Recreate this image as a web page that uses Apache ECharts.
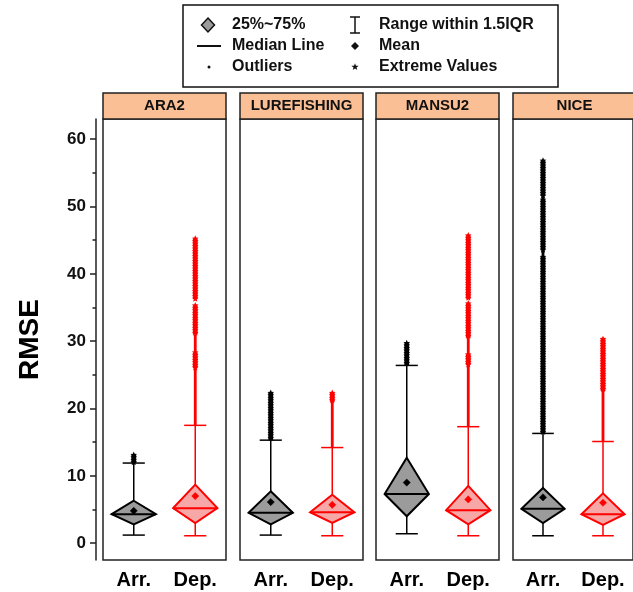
<!DOCTYPE html>
<html>
<head>
<meta charset="utf-8">
<script src="https://cdn.jsdelivr.net/npm/echarts@6/dist/echarts.min.js"></script>
<style>html,body{margin:0;padding:0;background:#fff;}#c{width:633px;height:592px;}</style>
</head>
<body>
<div id="c"></div>
<script>
// ---------- data ----------
const panels = ['ARA2', 'LUREFISHING', 'MANSU2', 'NICE'];
const groups = ['Arr.', 'Dep.'];
const tickValues = [0, 10, 20, 30, 40, 50, 60];
const minorTickValues = [5, 15, 25, 35, 45, 55];

const arrLow    = [1.2, 1.2, 1.4, 1.1];
const arrQ1     = [2.8, 2.8, 4.0, 3.0];
const arrMedian = [4.3, 4.5, 7.3, 5.1];
const arrQ3     = [6.3, 7.7, 12.7, 8.2];
const arrHigh   = [11.9, 15.3, 26.4, 16.3];
const arrMean   = [4.8, 6.1, 9.0, 6.8];

const depLow    = [1.1, 1.1, 1.1, 1.1];
const depQ1     = [3.0, 3.0, 2.8, 2.7];
const depMedian = [5.2, 4.6, 4.9, 4.3];
const depQ3     = [8.7, 7.2, 8.5, 7.4];
const depHigh   = [17.5, 14.2, 17.3, 15.1];
const depMean   = [7.0, 5.7, 6.5, 6.0];

// outlier value ranges (sparse = outliers, dense = extreme values)
const arrOutlierBands = [[], [], [], [[42.5, 43.5], [51.0, 51.6]]];
const arrExtremeBands = [[[11.9, 13.1]], [[15.3, 22.3]], [[26.4, 29.7]], [[16.3, 42.5], [43.5, 51.0], [51.6, 56.8]]];
const depOutlierBands = [[[17.5, 26.0], [28.3, 31.0]], [[14.2, 21.0]], [[17.3, 26.5], [28.0, 30.5]], [[15.1, 22.6]]];
const depExtremeBands = [[[26.0, 28.3], [31.0, 35.3], [36.3, 45.2]], [[21.0, 22.3]], [[26.5, 28.0], [30.5, 35.6], [36.3, 45.7]], [[22.6, 30.3]]];

// ---------- styling ----------
const FONT = 'Liberation Sans, Arial, sans-serif';
const strokeColors = ['#000000', '#ff0000'];
const fillColors = ['#9b9b9b', '#f8a7a7'];
const headerFill = '#fbbf95';
const yMin = -2.5, yMax = 63;
const gridTop = 119, gridHeight = 441, gridWidth = 123;
const gridLefts = [103, 240, 376, 513];

function starPoints(cx, cy, ro, ri) {
  const pts = [];
  for (let k = 0; k < 10; k++) {
    const r = k % 2 === 0 ? ro : ri;
    const a = -Math.PI / 2 + k * Math.PI / 5;
    pts.push([cx + r * Math.cos(a), cy + r * Math.sin(a)]);
  }
  return pts;
}

function renderBox(params, api) {
  const g = api.value(0);
  const color = strokeColors[g], fill = fillColors[g];
  const cy = v => api.coord([g, v])[1];
  const x = api.coord([g, 0])[0];
  const half = api.size([1, 0])[0] * 0.36;
  const capHalf = half * 0.5;
  const yLow = cy(api.value(1)), yQ1 = cy(api.value(2)), yMed = cy(api.value(3)),
        yQ3 = cy(api.value(4)), yHigh = cy(api.value(5)), yMean = cy(api.value(6));
  const ls = { stroke: color, lineWidth: 1.5 };
  const m = 3.6;
  return {
    type: 'group',
    children: [
      { type: 'line', shape: { x1: x, y1: yQ3, x2: x, y2: yHigh }, style: ls },
      { type: 'line', shape: { x1: x, y1: yQ1, x2: x, y2: yLow }, style: ls },
      { type: 'line', shape: { x1: x - capHalf, y1: yHigh, x2: x + capHalf, y2: yHigh }, style: ls },
      { type: 'line', shape: { x1: x - capHalf, y1: yLow, x2: x + capHalf, y2: yLow }, style: ls },
      { type: 'polygon', shape: { points: [[x, yQ3], [x + half, yMed], [x, yQ1], [x - half, yMed]] },
        style: { fill: fill, stroke: color, lineWidth: 2 } },
      { type: 'line', shape: { x1: x - half, y1: yMed, x2: x + half, y2: yMed }, style: { stroke: color, lineWidth: 2 } },
      { type: 'polygon', shape: { points: [[x, yMean - m], [x + m, yMean], [x, yMean + m], [x - m, yMean]] },
        style: { fill: color, stroke: color, lineWidth: 0.5 } }
    ]
  };
}

function renderBand(params, api) {
  const g = api.value(0);
  const color = strokeColors[g];
  const x = api.coord([g, 0])[0];
  const yHi = api.coord([g, api.value(2)])[1];
  const yLo = api.coord([g, api.value(1)])[1];
  const kind = api.value(3);
  if (kind === 0) {
    return { type: 'rect', shape: { x: x - 1.4, y: yHi, width: 2.8, height: yLo - yHi }, style: { fill: color } };
  }
  const children = [{ type: 'rect', shape: { x: x - 2.4, y: yHi, width: 4.8, height: yLo - yHi }, style: { fill: color } }];
  for (let y = yHi; y <= yLo + 0.1; y += 2.5) {
    children.push({ type: 'polygon', shape: { points: starPoints(x, y, 3.5, 1.6) }, style: { fill: color } });
  }
  return { type: 'group', children };
}

// ---------- build option ----------
const grids = [], xAxes = [], yAxes = [], series = [], graphics = [];
panels.forEach((name, i) => {
  grids.push({ left: gridLefts[i], top: gridTop, width: gridWidth, height: gridHeight,
    show: true, borderColor: '#222', borderWidth: 1.5, backgroundColor: '#fff' });
  xAxes.push({ gridIndex: i, type: 'category', data: groups,
    axisLine: { show: false }, axisTick: { show: false }, splitLine: { show: false },
    axisLabel: { fontSize: 20, fontWeight: 'bold', color: '#000', margin: 10, fontFamily: FONT } });
  if (i === 0) {
    yAxes.push({ gridIndex: 0, type: 'value', position: 'left', min: yMin, max: yMax, offset: 7,
      name: 'RMSE', nameLocation: 'middle', nameGap: 52, nameRotate: 90,
      nameTextStyle: { fontSize: 28, fontWeight: 'bold', color: '#000', fontFamily: FONT },
      axisLine: { show: true, lineStyle: { color: '#222', width: 1.5 } },
      axisTick: { show: true, customValues: tickValues, length: 6, lineStyle: { color: '#222', width: 1.5 } },
      axisLabel: { show: true, customValues: tickValues, fontSize: 17, fontWeight: 'bold', color: '#111', margin: 10, fontFamily: FONT },
      splitLine: { show: false } });
  } else {
    yAxes.push({ gridIndex: i, type: 'value', min: yMin, max: yMax, show: false, splitLine: { show: false } });
  }
  // outlier bands
  const bandData = [];
  arrOutlierBands[i].forEach(b => bandData.push([0, b[0], b[1], 0]));
  arrExtremeBands[i].forEach(b => bandData.push([0, b[0], b[1], 1]));
  depOutlierBands[i].forEach(b => bandData.push([1, b[0], b[1], 0]));
  depExtremeBands[i].forEach(b => bandData.push([1, b[0], b[1], 1]));
  series.push({ type: 'custom', name: 'Outliers', xAxisIndex: i, yAxisIndex: i, renderItem: renderBand,
    data: bandData, silent: true, clip: true });
  series.push({ type: 'custom', name: 'Boxes', xAxisIndex: i, yAxisIndex: i, renderItem: renderBox, silent: true,
    data: [
      [0, arrLow[i], arrQ1[i], arrMedian[i], arrQ3[i], arrHigh[i], arrMean[i]],
      [1, depLow[i], depQ1[i], depMedian[i], depQ3[i], depHigh[i], depMean[i]]
    ] });
  // panel header
  graphics.push({ type: 'rect', shape: { x: gridLefts[i], y: 93, width: gridWidth, height: 26 },
    style: { fill: headerFill, stroke: '#222', lineWidth: 1.5 } });
  graphics.push({ type: 'text', x: gridLefts[i] + gridWidth / 2, y: 106,
    style: { text: name, font: 'bold 15px ' + FONT, fill: '#111', textAlign: 'center', textVerticalAlign: 'middle', verticalAlign: 'middle' } });
});
// minor ticks axis
yAxes.push({ gridIndex: 0, type: 'value', position: 'left', min: yMin, max: yMax, offset: 7,
  axisLine: { show: false }, axisLabel: { show: false }, splitLine: { show: false },
  axisTick: { show: true, customValues: minorTickValues, length: 3.5, lineStyle: { color: '#222', width: 1.5 } } });

// legend
const lt = (t, x, y) => ({ type: 'text', x: x, y: y,
  style: { text: t, font: 'bold 16px ' + FONT, fill: '#111', textAlign: 'left', textVerticalAlign: 'middle', verticalAlign: 'middle' } });
graphics.push({ type: 'rect', shape: { x: 183, y: 5, width: 375, height: 82 }, style: { fill: '#fff', stroke: '#111', lineWidth: 1.5 } });
graphics.push({ type: 'polygon', shape: { points: [[208, 18], [214.5, 25], [208, 32], [201.5, 25]] }, style: { fill: '#9b9b9b', stroke: '#111', lineWidth: 1.5 } });
graphics.push(lt('25%~75%', 232, 25));
graphics.push({ type: 'line', shape: { x1: 355, y1: 17, x2: 355, y2: 33 }, style: { stroke: '#111', lineWidth: 1.5 } });
graphics.push({ type: 'line', shape: { x1: 350, y1: 17, x2: 360, y2: 17 }, style: { stroke: '#111', lineWidth: 1.5 } });
graphics.push({ type: 'line', shape: { x1: 350, y1: 33, x2: 360, y2: 33 }, style: { stroke: '#111', lineWidth: 1.5 } });
graphics.push(lt('Range within 1.5IQR', 379, 25));
graphics.push({ type: 'line', shape: { x1: 197, y1: 46, x2: 221, y2: 46 }, style: { stroke: '#111', lineWidth: 2 } });
graphics.push(lt('Median Line', 232, 46));
graphics.push({ type: 'polygon', shape: { points: [[355, 42], [359, 46], [355, 50], [351, 46]] }, style: { fill: '#111' } });
graphics.push(lt('Mean', 379, 46));
graphics.push({ type: 'circle', shape: { cx: 209, cy: 67, r: 1.5 }, style: { fill: '#111' } });
graphics.push(lt('Outliers', 232, 67));
graphics.push({ type: 'polygon', shape: { points: starPoints(355, 67, 3.8, 1.6) }, style: { fill: '#111' } });
graphics.push(lt('Extreme Values', 379, 67));

const chart = echarts.init(document.getElementById('c'), null, { renderer: 'canvas' });
chart.setOption({
  animation: false,
  backgroundColor: '#fff',
  textStyle: { fontFamily: FONT },
  grid: grids,
  xAxis: xAxes,
  yAxis: yAxes,
  series: series,
  graphic: { elements: graphics }
});
</script>
</body>
</html>
